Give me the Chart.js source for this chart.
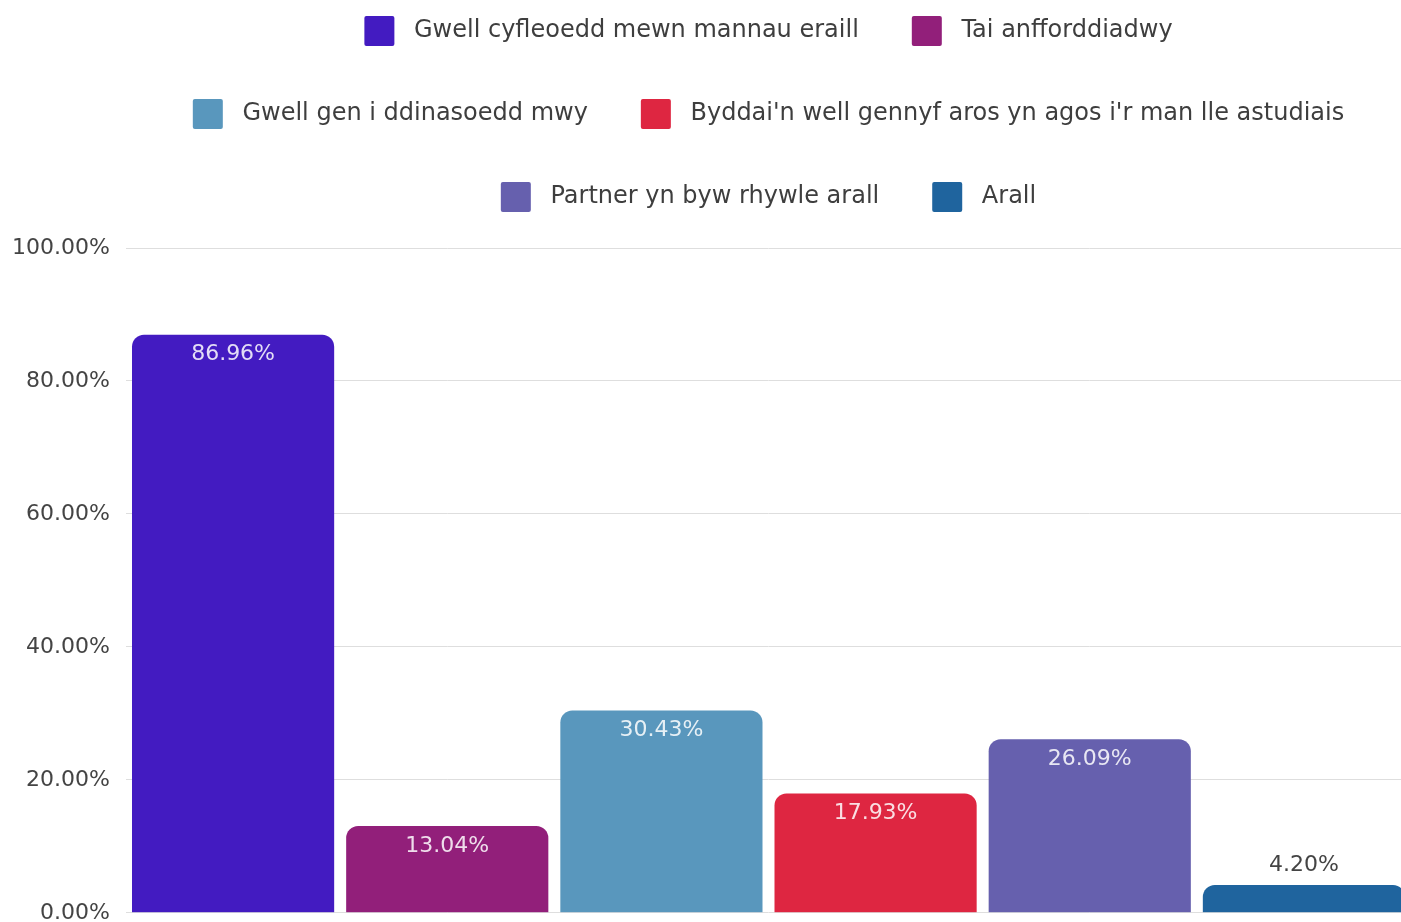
<!DOCTYPE html>
<html>
<head>
<meta charset="utf-8">
<script src="https://cdn.jsdelivr.net/npm/chart.js@4.4.1/dist/chart.umd.min.js"></script>
<style>
  html, body { margin: 0; padding: 0; background: #fff; overflow: hidden; width: 1401px; height: 922px; }
  #wrap { position: absolute; left: 0; top: -37px; }
</style>
</head>
<body>
<div id="wrap"><canvas id="reasons" width="1411" height="979"></canvas></div>
<script>
const seriesNames = [
    'Gwell cyfleoedd mewn mannau eraill',
    'Tai anfforddiadwy',
    'Gwell gen i ddinasoedd mwy',
    "Byddai'n well gennyf aros yn agos i'r man lle astudiais",
    'Partner yn byw rhywle arall',
    'Arall'
];
const seriesValues = [86.96, 13.04, 30.43, 17.93, 26.09, 4.20];
const seriesColors = ['#431bc1', '#921f7a', '#5997bd', '#de2641', '#6660ae', '#1f649e'];
const yTicks = [0, 20, 40, 60, 80, 100];

const FONT = 'DejaVu Sans';

// value labels: white inside tall bars, grey above short ones
const valueLabels = {
    id: 'valueLabels',
    afterDatasetsDraw(chart) {
        const ctx = chart.ctx;
        ctx.save();
        ctx.font = '22px "' + FONT + '"';
        ctx.textAlign = 'center';
        ctx.textBaseline = 'middle';
        chart.data.datasets.forEach((ds, i) => {
            const bar = chart.getDatasetMeta(i).data[0];
            const text = ds.data[0].toFixed(2) + '%';
            if (bar.base - bar.y > 40) {
                ctx.fillStyle = 'rgba(255,255,255,0.85)';
                ctx.fillText(text, bar.x, bar.y + 20);
            } else {
                ctx.fillStyle = '#444';
                ctx.fillText(text, bar.x, bar.y - 20);
            }
        });
        ctx.restore();
    }
};

// extra room under the legend
const legendGap = {
    id: 'legendGap',
    beforeInit(chart) {
        const fit = chart.legend.fit;
        chart.legend.fit = function () {
            fit.bind(chart.legend)();
            this.height += 26;
        };
    }
};

const datasets = seriesNames.map((name, i) => ({
    label: name,
    data: [seriesValues[i]],
    backgroundColor: seriesColors[i],
    borderRadius: { topLeft: 12, topRight: 12 },
    borderSkipped: 'start',
    categoryPercentage: 1,
    barPercentage: 0.944
}));

new Chart(document.getElementById('reasons'), {
    type: 'bar',
    data: { labels: [''], datasets: datasets },
    options: {
        responsive: false,
        animation: false,
        layout: { padding: 0 },
        plugins: {
            legend: {
                position: 'top',
                fullSize: false,
                labels: {
                    boxWidth: 30,
                    boxHeight: 30,
                    padding: 53,
                    useBorderRadius: true,
                    borderRadius: 2,
                    color: '#3e3e3e',
                    font: { family: FONT, size: 24 },
                    // a little more space between swatch and text
                    generateLabels(chart) {
                        return Chart.defaults.plugins.legend.labels.generateLabels(chart)
                            .map(item => Object.assign(item, { text: ' ' + item.text }));
                    }
                }
            },
            tooltip: { enabled: false }
        },
        scales: {
            x: { display: false },
            y: {
                min: 0,
                max: 100,
                afterBuildTicks(scale) {
                    scale.ticks = yTicks.map(v => ({ value: v }));
                },
                afterFit(scale) {
                    scale.width = 126;
                },
                border: { display: false },
                grid: { color: '#dedede', drawTicks: false },
                ticks: {
                    padding: 16,
                    color: '#444',
                    font: { family: FONT, size: 22 },
                    callback: v => v.toFixed(2) + '%'
                }
            }
        }
    },
    plugins: [valueLabels, legendGap]
});
</script>
</body>
</html>
